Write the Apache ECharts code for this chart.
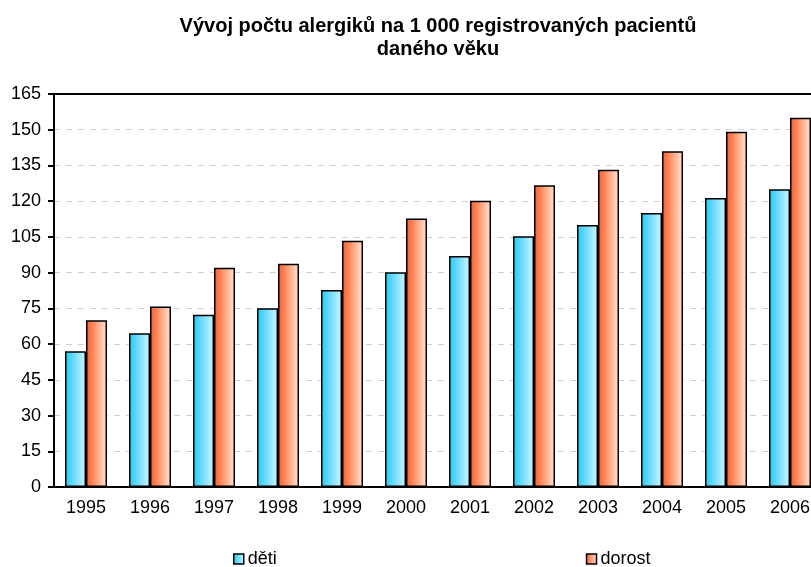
<!DOCTYPE html>
<html>
<head>
<meta charset="utf-8">
<script src="https://cdn.jsdelivr.net/npm/echarts@6/dist/echarts.min.js"></script>
<style>
  html, body { margin: 0; padding: 0; background: #fff; overflow: hidden; }
  /* graf je v originále vpravo oříznutý, proto širší plátno */
  #chart { width: 830px; height: 567px; }
</style>
</head>
<body>
<div id="chart"></div>
<script>
// roky
const years = ['1995', '1996', '1997', '1998', '1999', '2000', '2001', '2002', '2003', '2004', '2005', '2006']
// počet alergiků na 1 000 registrovaných pacientů
const deti = [57, 64.5, 72.3, 75, 82.7, 90.2, 97, 105.3, 110, 115, 121.3, 125]
const dorost = [70, 75.8, 92, 93.7, 103.4, 112.7, 120.2, 126.7, 133.2, 141, 149.2, 155]

const font = 'Liberation Sans, Arial, sans-serif'

const barGrad = (from, to) => new echarts.graphic.LinearGradient(0, 0, 1, 0, [
    { offset: 0, color: from },
    { offset: 1, color: to }
])

const chart = echarts.init(document.getElementById('chart'))
const option = {
    animation: false,
    textStyle: { fontFamily: font },
    title: {
        text: 'Vývoj počtu alergiků na 1 000 registrovaných pacientů\ndaného věku',
        left: 433,
        textAlign: 'center',
        top: 10,
        textStyle: { fontSize: 20, fontWeight: 'bold', color: '#000', lineHeight: 23, fontFamily: font }
    },
    legend: {
        data: ['děti', 'dorost'],
        left: 228,
        top: 545,
        itemGap: 309,
        itemWidth: 10,
        itemHeight: 10,
        icon: 'rect',
        itemStyle: { borderColor: '#000', borderWidth: 1.5 },
        textStyle: { fontSize: 18, color: '#000', padding: [0, 0, 0, -1] }
    },
    grid: {
        left: 54,
        top: 94,
        right: 8,
        bottom: 80
    },
    xAxis: [
        {
            type: 'category',
            data: years,
            axisLine: { lineStyle: { color: '#000', width: 2 } },
            axisTick: { length: 6, lineStyle: { color: '#000', width: 2 } },
            axisLabel: { fontSize: 18, color: '#000', margin: 12 }
        },
        {
            // horní rámeček grafu
            type: 'category',
            data: years,
            position: 'top',
            axisLine: { lineStyle: { color: '#000', width: 2 } },
            axisTick: { show: false },
            axisLabel: { show: false }
        }
    ],
    yAxis: {
        type: 'value',
        min: 0,
        max: 165,
        interval: 15,
        axisLine: { show: true, lineStyle: { color: '#000', width: 2 } },
        axisTick: { show: true, length: 6, lineStyle: { color: '#000', width: 2 } },
        axisLabel: { fontSize: 18, color: '#000', margin: 13 },
        splitLine: { lineStyle: { color: '#cfcfcf', type: [6, 6], width: 1 } }
    },
    series: [
        {
            name: 'děti',
            type: 'bar',
            barWidth: 21,
            barGap: '0%',
            itemStyle: {
                color: barGrad('#22c8fb', '#d2f4ff'),
                borderColor: '#000',
                borderWidth: 1.5
            },
            data: deti
        },
        {
            name: 'dorost',
            type: 'bar',
            barWidth: 21,
            barGap: '0%',
            itemStyle: {
                color: barGrad('#ff5a22', '#ffe6d8'),
                borderColor: '#000',
                borderWidth: 1.5
            },
            data: dorost
        }
    ]
}
chart.setOption(option)
</script>
</body>
</html>
